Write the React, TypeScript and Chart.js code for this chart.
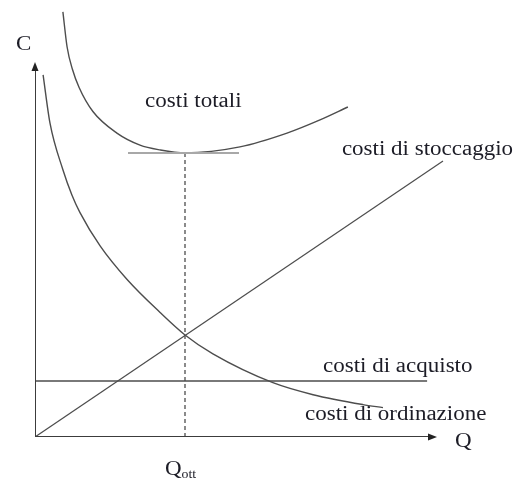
import React, { useEffect, useRef } from "react";
import { Chart, registerables } from "chart.js";

Chart.register(...registerables);

// Quantity (Q) / cost (C) sample points for each cost curve
const totalQ = [9.3, 10.7, 12.5, 14.7, 19.3, 27.3, 35, 41.7, 50, 68.3, 84, 95, 104.3];
const totalC = [141.7, 130, 122.5, 116.5, 108.5, 101.3, 97.3, 95.7, 94.7, 96.7, 101.3, 105.7, 110];

const orderQ = [2.7, 5, 9.3, 12.3, 15, 21.7, 30.7, 41.7, 50, 59.3, 79.3, 92.7, 109.3, 116];
const orderC = [120.7, 104.6, 89.1, 80.7, 74.8, 63.7, 52.5, 41.5, 34, 27.7, 18.1, 14.1, 10.8, 9.8];

const storageQ = [0, 136];
const storageC = [0, 92];

const purchaseQ = [0, 130.7];
const purchaseC = [18.7, 18.7];

// Optimal lot size and the minimum total cost
const qOtt = 50;
const minCost = 94.7;
const tangentQ = [31, 68];

// Axis extents
const axisQEnd = 134;
const axisCEnd = 125;

// Text labels anchored in data space (left edge, baseline)
const labelText = ["C", "costi totali", "costi di stoccaggio", "costi di acquisto", "costi di ordinazione", "Q"];
const labelQ = [-6.3, 36.7, 102.3, 96, 90, 140];
const labelC = [129, 110, 94, 21.7, 5.7, -3.3];
const qOttLabel = { main: "Q", sub: "ott", q: 43.3, c: -12.7 };

const pts = (xs: number[], ys: number[]) => xs.map((x, i) => ({ x, y: ys[i] }));

const CURVE = "#4d4d4d";
const AXIS = "#3c3c3c";
const TEXT = "#1c1c26";
const SERIF = '"Liberation Serif", "Times New Roman", serif';

const decor = {
  id: "decor",
  afterDatasetsDraw(chart: any) {
    const { ctx, scales } = chart;
    const xs = scales.x;
    const ys = scales.y;
    const px = (q: number) => xs.getPixelForValue(q);
    const py = (c: number) => ys.getPixelForValue(c);

    ctx.save();
    // arrowheads at the ends of both axes
    ctx.fillStyle = "#222";
    const ox = px(0);
    const oy = py(0);
    const yt = py(axisCEnd);
    ctx.beginPath();
    ctx.moveTo(ox, yt);
    ctx.lineTo(ox - 3.5, yt + 9);
    ctx.lineTo(ox + 3.5, yt + 9);
    ctx.closePath();
    ctx.fill();
    const xt = px(axisQEnd);
    ctx.beginPath();
    ctx.moveTo(xt, oy);
    ctx.lineTo(xt - 9, oy - 3.5);
    ctx.lineTo(xt - 9, oy + 3.5);
    ctx.closePath();
    ctx.fill();

    // labels
    ctx.fillStyle = TEXT;
    ctx.textBaseline = "alphabetic";
    ctx.textAlign = "left";
    const stretch = 1.15;
    const drawText = (t: string, x: number, y: number, size: number) => {
      ctx.save();
      ctx.translate(x, y);
      ctx.scale(stretch, 1);
      ctx.font = `${size}px ${SERIF}`;
      ctx.fillText(t, 0, 0);
      const w = ctx.measureText(t).width * stretch;
      ctx.restore();
      return w;
    };
    labelText.forEach((t, i) => drawText(t, px(labelQ[i]), py(labelC[i]), 20));
    const qx = px(qOttLabel.q);
    const qy = py(qOttLabel.c);
    const w = drawText(qOttLabel.main, qx, qy, 20);
    drawText(qOttLabel.sub, qx + w, qy + 3, 12);
    ctx.restore();
  },
};

export default function App() {
  const ref = useRef<HTMLCanvasElement | null>(null);

  useEffect(() => {
    if (!ref.current) return;
    const line = (data: any, extra: any = {}) => ({
      data,
      borderColor: CURVE,
      borderWidth: 1.4,
      pointRadius: 0,
      fill: false,
      ...extra,
    });
    const chart = new Chart(ref.current, {
      type: "line",
      data: {
        datasets: [
          line(pts([0, 0], [0, axisCEnd - 2]), { borderColor: AXIS, borderWidth: 2 }),
          line(pts([0, axisQEnd - 2], [0, 0]), { borderColor: AXIS, borderWidth: 2 }),
          line(pts(tangentQ, [minCost, minCost]), { borderColor: "#a8a8a8", borderWidth: 2 }),
          line(pts([qOtt, qOtt], [0, minCost]), { borderDash: [4, 3], borderWidth: 1.3 }),
          line(pts(totalQ, totalC), { cubicInterpolationMode: "monotone" }),
          line(pts(orderQ, orderC), { cubicInterpolationMode: "monotone" }),
          line(pts(storageQ, storageC), { borderWidth: 1.2 }),
          line(pts(purchaseQ, purchaseC), { borderWidth: 1.5 }),
        ],
      },
      options: {
        animation: false,
        responsive: true,
        maintainAspectRatio: false,
        layout: { padding: { left: 35, right: 61, top: 5, bottom: 46 } },
        plugins: { legend: { display: false }, tooltip: { enabled: false } },
        scales: {
          x: { type: "linear", min: 0, max: 140, display: false },
          y: { type: "linear", min: 0, max: 144, display: false },
        },
      },
      plugins: [decor],
    });
    return () => chart.destroy();
  }, []);

  return (
    <div style={{ position: "fixed", left: 0, top: 0, width: 516, height: 483, background: "#fff" }}>
      <canvas ref={ref} />
    </div>
  );
}
